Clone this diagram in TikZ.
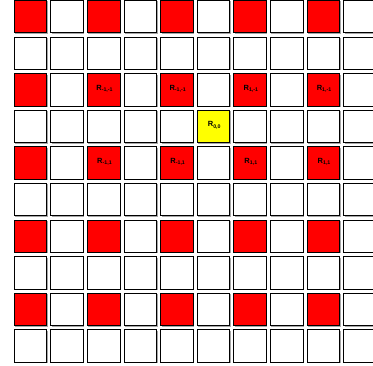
\documentclass[tikz,border=0pt]{standalone}
\usepackage{fontspec}
\setmainfont{Liberation Sans}
\usetikzlibrary{shadows}
\definecolor{cellred}{RGB}{255, 0, 0}
\definecolor{cellyellow}{RGB}{255, 255, 0}

\begin{document}
\begin{tikzpicture}[x=1pt, y=-1pt,
  cell/.style={draw=black, line width=0.8pt, minimum size=32.5pt, inner sep=0pt,
    drop shadow={shadow xshift=1pt, shadow yshift=-1pt, fill=gray!70, opacity=1}},
  tag/.style={font=\fontsize{7.5}{8}\selectfont\bfseries, inner sep=0pt, xshift=1pt, yshift=1pt}]
\useasboundingbox (0,0) rectangle (373,366);

% grid of cells, red on even rows and columns
\foreach \r in {0,...,9} {
  \foreach \c in {0,...,9} {
    \def\cellfill{white}
    \ifodd\r\relax\else\ifodd\c\relax\else\def\cellfill{cellred}\fi\fi
    \ifnum\r=3 \ifnum\c=5 \def\cellfill{cellyellow}\fi\fi
    \node[cell, fill=\cellfill] (c-\r-\c) at ({30.5+36.6*\c},{16.6+36.6*\r}) {};
  }
}

% labels
\foreach \c/\i in {2/-1,4/-1,6/1,8/1} {
  \node[tag] (t-2-\c) at (c-2-\c) {R\textsubscript{\i,-1}};
  \node[tag] (t-4-\c) at (c-4-\c) {R\textsubscript{\i,1}};
}
\node[tag] (t-3-5) at (c-3-5) {R\textsubscript{0,0}};
\end{tikzpicture}
\end{document}
